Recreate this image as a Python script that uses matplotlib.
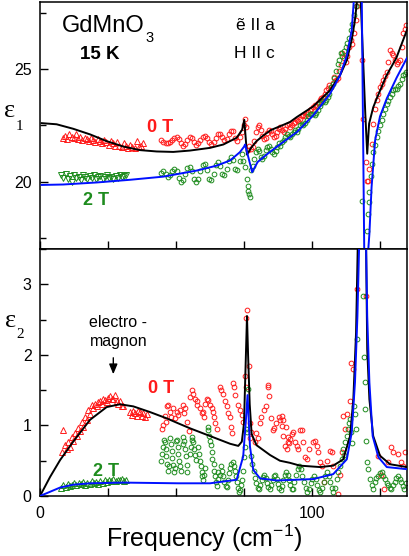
import numpy as np
import matplotlib
matplotlib.use("Agg")
import matplotlib.pyplot as plt
from matplotlib.ticker import MultipleLocator, FixedLocator

plt.rcParams['font.family'] = ['Liberation Sans', 'DejaVu Sans']
plt.rcParams['mathtext.fontset'] = 'custom'
plt.rcParams['mathtext.rm'] = 'Liberation Sans'
plt.rcParams['mathtext.it'] = 'Liberation Sans'
plt.rcParams['mathtext.default'] = 'regular'

# ---------------- data (frequency in cm^-1) ----------------
# fit curves, eps1
fit1_0T = [(0.6, 22.6), (6.1, 22.55), (12.2, 22.35), (18.4, 22.1), (24.5, 21.8), (30.6, 21.56),
           (36.8, 21.4), (42.9, 21.34), (49.0, 21.32), (55.1, 21.38), (62.5, 21.5), (67.4, 21.65),
           (72.3, 21.95), (74.3, 22.3), (75.1, 22.75), (76.1, 21.2), (77.6, 21.5), (79.6, 21.8),
           (82.1, 22.05), (85.0, 22.3), (88.2, 22.46), (91.9, 22.65), (94.4, 22.87), (100.5, 23.35),
           (106.6, 24.06), (110.3, 24.73), (112.8, 25.4), (114.6, 26.3), (115.8, 27.2), (116.6, 28.1),
           (117.3, 31.0), (117.9, 28.1), (118.9, 25.1), (119.6, 23.0), (120.3, 21.24), (121.0, 22.58),
           (122.5, 23.3), (123.8, 23.7), (127.3, 24.7), (131.0, 25.5), (134.9, 26.74)]
fit1_2T = [(0.6, 19.85), (8.5, 19.87), (20.8, 19.96), (33.1, 20.08), (45.3, 20.22), (57.6, 20.49),
           (65.0, 20.71), (69.9, 20.94), (73.5, 21.31), (75.0, 21.55), (75.4, 21.65), (78.0, 20.42),
           (80.0, 20.87), (83.7, 21.24), (88.2, 21.65), (91.9, 21.98), (94.4, 22.2), (100.5, 22.95),
           (106.6, 23.9), (110.3, 24.73), (112.8, 25.6), (114.6, 26.74), (115.4, 28.1), (116.5, 32.0),
           (118.3, 28.1), (119.2, 17.0), (119.7, 12.0), (120.7, 17.0), (121.1, 17.67), (121.9, 19.75),
           (123.2, 21.83), (125.0, 22.9), (127.5, 23.7), (131.1, 24.62), (134.9, 25.5)]
# fit curves, eps2
fit2_0T = [(0.0, 0.0), (3.7, 0.27), (7.4, 0.51), (12.2, 0.77), (18.4, 1.08), (24.5, 1.26), (29.4, 1.30),
           (34.3, 1.27), (40.4, 1.19), (46.6, 1.10), (50.8, 1.03), (55.1, 0.96), (62.5, 0.85),
           (69.9, 0.74), (72.9, 0.71), (74.2, 0.77), (75.0, 1.03), (75.7, 2.0), (76.1, 2.55),
           (76.5, 2.0), (77.1, 1.3), (77.8, 0.88), (79.6, 0.72), (84.6, 0.58), (88.2, 0.50),
           (91.9, 0.47), (95.6, 0.43), (103.0, 0.41), (107.8, 0.43), (111.5, 0.52), (114.0, 0.85),
           (115.2, 1.37), (116.2, 2.32), (116.8, 3.5), (118.3, 8.0), (119.9, 3.5), (120.3, 2.08),
           (121.1, 1.37), (122.5, 0.85), (125.0, 0.57), (128.7, 0.45), (134.9, 0.41)]
fit2_2T = [(0.0, 0.0), (3.7, 0.06), (7.4, 0.12), (12.2, 0.16), (18.4, 0.18), (30.6, 0.19), (50.8, 0.18),
           (62.5, 0.18), (72.3, 0.23), (74.7, 0.56), (75.7, 1.08), (76.3, 1.43), (77.2, 0.70),
           (78.4, 0.37), (80.9, 0.25), (87.0, 0.22), (100.5, 0.24), (107.8, 0.31), (112.8, 0.52),
           (114.6, 0.90), (115.8, 1.61), (116.7, 2.55), (117.3, 3.5), (118.6, 10.0), (119.9, 3.5),
           (120.3, 2.55), (121.1, 1.61), (122.3, 0.85), (124.4, 0.55), (127.5, 0.41), (134.9, 0.38)]

# measured eps1, 0 T
e1_0T_tri = [(8.5, 21.95), (9.3, 22.05), (10.1, 21.9), (10.8, 22.1), (11.6, 22.0), (12.4, 21.95),
             (13.2, 22.1), (14.0, 21.9), (14.8, 22.0), (15.6, 21.85), (16.4, 21.95), (17.2, 21.9),
             (18.0, 21.8), (18.8, 21.95), (19.6, 21.85), (20.4, 21.75), (21.2, 21.9), (22.0, 21.8),
             (22.8, 21.7), (23.6, 21.85), (24.4, 21.75), (25.2, 21.65), (26.0, 21.8), (26.8, 21.7),
             (27.6, 21.6), (28.4, 21.75), (29.2, 21.6), (30.0, 21.55), (30.8, 21.7), (31.6, 21.6),
             (32.4, 21.5), (33.2, 21.65), (34.0, 21.55), (34.8, 21.5), (35.6, 21.8), (36.4, 21.55),
             (37.2, 21.6), (38.0, 21.7)]
e1_0T_circ = [(44.6, 21.83), (45.4, 21.76), (46.2, 21.72), (47.0, 21.7), (47.8, 21.75), (48.6, 21.85),
              (49.4, 21.95), (50.2, 21.98), (51.0, 21.9), (51.8, 21.72), (52.6, 21.6), (53.4, 21.68),
              (54.2, 21.85), (55.0, 21.99), (55.8, 21.95), (56.6, 21.78), (57.4, 21.65), (58.2, 21.7),
              (59.0, 21.85), (59.8, 22.0), (60.6, 22.05), (61.4, 21.92), (62.2, 21.75), (63.0, 21.68),
              (63.8, 21.78), (64.6, 21.95), (65.4, 22.1), (66.2, 22.13), (67.0, 22.0), (67.8, 21.83),
              (68.6, 21.88), (69.4, 22.1), (70.2, 22.27), (71.0, 22.25), (71.8, 21.95), (72.6, 21.8),
              (73.4, 22.0), (74.2, 22.2), (75.0, 22.5), (75.4, 22.8), (75.9, 22.42), (76.4, 21.4),
              (77.0, 21.6), (77.6, 21.45), (78.2, 21.55), (78.8, 21.8), (79.4, 22.2), (80.0, 22.45),
              (80.6, 22.5), (81.2, 22.3), (81.8, 22.05), (82.4, 21.9), (83.0, 21.95), (83.6, 22.15),
              (84.2, 22.28), (84.8, 22.25), (85.4, 22.1), (86.0, 22.0), (86.6, 22.05), (87.2, 22.2),
              (87.8, 22.35), (88.4, 22.43), (89.0, 22.3), (89.6, 22.2), (90.2, 22.35), (90.8, 22.5),
              (91.4, 22.55), (92.0, 22.45), (92.6, 22.5), (93.2, 22.6), (93.8, 22.65), (94.4, 22.75),
              (95.0, 22.7), (95.6, 22.8), (96.2, 22.9), (96.8, 22.95), (97.4, 22.9), (98.0, 23.02),
              (98.6, 23.1), (99.2, 23.2), (99.8, 23.25), (100.4, 23.32), (101.0, 23.4), (101.6, 23.35),
              (102.2, 23.5), (102.8, 23.62), (103.4, 23.7), (104.0, 23.75), (104.6, 23.9), (105.2, 24.06),
              (105.8, 24.15), (106.4, 24.29), (107.0, 24.2), (107.6, 24.4), (108.2, 24.66), (108.8, 24.5),
              (109.4, 24.6), (110.0, 24.9), (110.6, 25.2), (111.2, 25.7), (111.8, 25.5), (112.4, 25.33),
              (113.0, 25.6), (113.6, 26.0), (114.2, 26.3), (114.8, 26.1), (115.4, 26.6), (116.0, 27.2),
              (116.5, 27.8), (118.5, 25.4), (118.9, 22.8), (119.9, 20.86), (120.1, 20.04), (120.5, 20.04),
              (121.1, 20.57), (121.9, 21.68), (122.5, 22.58), (123.2, 23.24), (123.8, 23.62),
              (124.4, 23.9), (125.0, 24.21), (125.6, 24.35), (126.2, 24.51), (126.9, 24.7), (127.5, 24.88),
              (128.1, 25.3), (128.7, 25.85), (129.3, 25.7), (129.9, 25.63), (130.5, 25.4), (131.1, 25.25),
              (131.7, 25.3), (132.4, 25.4), (133.0, 26.0), (133.6, 26.6), (134.2, 26.8), (134.6, 26.96)]
# measured eps1, 2 T
e1_2T_tri = [(7.8, 20.3), (8.6, 20.15), (9.4, 20.35), (10.2, 20.1), (11.0, 20.25), (11.8, 20.0),
             (12.6, 20.3), (13.4, 20.15), (14.2, 20.2), (15.0, 20.05), (15.8, 20.3), (16.6, 20.2),
             (17.4, 20.1), (18.2, 20.25), (19.0, 20.15), (19.8, 20.3), (20.6, 20.1), (21.4, 20.2),
             (22.2, 20.25), (23.0, 20.1), (23.8, 20.2), (24.6, 20.3), (25.4, 20.15), (26.2, 20.2),
             (27.0, 20.1), (27.8, 20.25), (28.6, 20.15), (29.4, 20.3), (30.2, 20.2), (31.0, 20.25),
             (31.8, 20.3)]
e1_2T_circ = [(44.6, 20.4), (45.4, 20.45), (46.2, 20.35), (47.0, 20.2), (47.8, 20.3), (48.6, 20.48),
              (49.4, 20.57), (50.2, 20.45), (51.0, 20.15), (51.8, 19.97), (52.6, 20.05), (53.4, 20.35),
              (54.2, 20.6), (55.0, 20.64), (55.8, 20.45), (56.6, 20.1), (57.4, 19.97), (58.2, 20.1),
              (59.0, 20.45), (59.8, 20.75), (60.6, 20.78), (61.4, 20.5), (62.2, 20.1), (63.0, 20.05),
              (63.8, 20.35), (64.6, 20.75), (65.4, 20.86), (66.2, 20.7), (67.0, 20.35), (67.8, 20.3),
              (68.6, 20.55), (69.4, 20.9), (70.2, 21.09), (71.0, 20.95), (71.8, 20.55), (72.6, 20.5),
              (73.4, 20.9), (74.2, 21.24), (74.8, 20.9), (75.4, 20.64), (76.0, 20.12), (76.3, 19.82),
              (76.6, 19.6), (77.0, 19.45), (77.2, 19.3), (77.6, 20.5), (78.2, 20.71), (78.8, 21.0),
              (79.4, 21.3), (80.0, 21.46), (80.6, 21.35), (81.2, 21.1), (81.8, 21.01), (82.4, 21.15),
              (83.0, 21.4), (83.6, 21.55), (84.2, 21.6), (84.8, 21.45), (85.4, 21.3), (86.0, 21.24),
              (86.6, 21.35), (87.2, 21.55), (87.8, 21.7), (88.4, 21.6), (89.0, 21.75), (89.6, 21.83),
              (90.2, 22.0), (90.8, 22.13), (91.4, 22.05), (92.0, 21.98), (92.6, 22.1), (93.2, 22.2),
              (93.8, 22.28), (94.4, 22.2), (95.0, 22.35), (95.6, 22.5), (96.2, 22.58), (96.8, 22.5),
              (97.4, 22.6), (98.0, 22.75), (98.6, 22.9), (99.2, 23.02), (99.8, 23.0), (100.4, 23.02),
              (101.0, 22.95), (101.6, 23.05), (102.2, 23.2), (102.8, 23.35), (103.4, 23.5), (104.0, 23.6),
              (104.6, 23.55), (105.2, 23.65), (105.8, 23.76), (106.4, 23.9), (107.0, 24.2), (107.6, 24.35),
              (108.2, 24.6), (108.8, 24.9), (109.4, 25.25), (110.0, 25.4), (110.6, 25.7), (111.2, 25.6),
              (111.8, 25.8), (112.4, 26.0), (113.0, 26.15), (113.6, 26.4), (114.2, 26.74), (114.8, 27.0),
              (115.4, 27.4), (116.0, 27.8), (118.3, 19.15), (120.4, 17.81), (120.6, 18.55), (121.0, 19.08),
              (121.1, 19.52), (121.6, 20.27), (122.1, 20.79), (122.5, 21.31), (123.1, 21.65),
              (123.8, 21.98), (124.4, 22.25), (125.0, 22.5), (125.6, 22.75), (126.2, 23.02), (126.9, 23.25),
              (127.5, 23.47), (128.1, 23.6), (128.7, 23.77), (129.3, 23.9), (129.9, 24.06), (130.5, 24.1),
              (131.1, 24.14), (131.7, 24.25), (132.4, 24.36), (133.0, 24.55), (133.6, 24.73),
              (134.2, 24.8), (134.6, 24.88)]

# measured eps2, 0 T
e2_0T_tri = [(8.0, 0.63), (8.6, 0.93), (9.2, 0.72), (9.8, 0.66), (10.4, 0.77), (11.0, 0.70), (11.6, 0.84),
             (12.2, 0.78), (12.9, 0.89), (13.5, 0.85), (14.1, 0.96), (14.7, 0.92), (15.3, 1.05),
             (15.9, 0.98), (16.5, 1.12), (17.1, 1.08), (17.8, 1.22), (18.4, 1.16), (19.0, 1.29),
             (19.6, 1.24), (20.2, 1.31), (20.8, 1.27), (21.4, 1.33), (22.1, 1.34), (22.7, 1.30),
             (23.3, 1.37), (23.9, 1.36), (24.5, 1.33), (25.1, 1.39), (25.7, 1.41), (26.3, 1.37),
             (27.0, 1.38), (27.6, 1.43), (28.2, 1.35), (28.8, 1.31), (29.4, 1.34), (30.0, 1.28),
             (30.6, 1.27), (33.1, 1.19), (33.7, 1.15), (34.3, 1.21), (34.9, 1.17), (35.5, 1.14),
             (36.2, 1.20), (36.8, 1.19), (37.4, 1.13), (38.0, 1.17), (38.6, 1.12), (39.2, 1.16)]
e2_0T_circ = [(44.8, 0.95), (45.3, 1.01), (45.9, 1.13), (46.2, 1.05), (46.6, 1.27), (47.2, 1.29),
              (47.8, 1.19), (48.0, 1.12), (49.0, 1.24), (49.6, 1.10), (50.2, 1.19), (50.8, 1.15),
              (51.5, 1.22), (52.7, 1.29), (52.9, 1.17), (53.3, 1.24), (54.0, 1.05), (54.6, 0.92),
              (55.2, 1.40), (55.8, 1.50), (56.4, 1.45), (57.0, 1.38), (57.6, 1.34), (57.9, 1.29),
              (58.8, 1.24), (59.4, 1.17), (60.1, 1.19), (60.3, 1.12), (60.7, 1.31), (61.3, 1.38),
              (61.9, 1.36), (62.5, 1.29), (63.1, 1.24), (63.7, 1.19), (63.9, 1.12), (64.3, 1.03),
              (65.0, 0.95), (66.2, 1.55), (66.6, 1.50), (67.4, 1.45), (68.0, 1.34), (68.6, 1.27),
              (69.2, 1.17), (69.9, 1.12), (70.1, 0.98), (70.5, 0.89), (71.1, 1.60), (71.3, 1.55),
              (71.7, 1.43), (72.9, 1.29), (73.5, 1.22), (74.1, 1.15), (74.7, 1.05), (75.3, 1.7),
              (75.7, 2.52), (76.0, 2.63), (77.0, 1.84), (75.9, 1.55), (77.1, 1.03), (77.3, 0.82),
              (77.7, 0.91), (78.9, 0.77), (79.5, 0.89), (80.1, 0.82), (80.7, 1.03), (81.3, 1.12),
              (82.5, 1.22), (83.1, 1.27), (83.7, 1.55), (83.9, 1.57), (84.3, 1.41), (84.9, 1.10),
              (85.5, 0.94), (86.2, 0.96), (86.8, 1.03), (88.0, 1.12), (88.2, 1.07), (88.8, 1.14),
              (88.9, 0.99), (89.2, 1.08), (89.5, 0.85), (90.1, 0.71), (90.4, 0.98), (90.7, 0.67),
              (91.0, 0.84), (91.3, 0.76), (91.6, 0.75), (91.9, 0.81), (92.5, 0.88), (93.1, 0.90),
              (93.8, 0.76), (94.4, 0.71), (95.0, 0.67), (95.6, 0.93), (96.2, 0.93), (96.8, 0.76),
              (97.4, 0.55), (98.0, 0.52), (99.0, 0.66), (100.5, 0.76), (101.1, 0.78), (101.7, 0.71),
              (102.3, 0.62), (102.9, 0.48), (103.6, 0.43), (104.5, 0.20), (105.5, 0.50), (106.6, 0.64),
              (107.2, 0.62), (107.8, 0.43), (109.7, 0.03), (110.2, 0.30), (110.9, 0.62), (111.5, 1.14),
              (112.2, 0.95), (112.7, 1.16), (113.9, 1.35), (114.5, 1.89), (115.1, 1.80), (116.7, 2.93),
              (120.0, 2.84), (124.3, 0.57), (125.5, 0.30), (126.5, 0.10), (128.0, 0.48), (129.2, 0.69),
              (129.8, 0.62), (131.6, 0.60), (132.8, 0.48), (133.5, 0.43), (134.2, 0.62)]
# measured eps2, 2 T
e2_2T_tri = [(7.8, 0.12), (8.6, 0.15), (9.4, 0.13), (10.2, 0.17), (11.0, 0.14), (11.8, 0.16), (12.6, 0.18),
             (13.4, 0.15), (14.2, 0.19), (15.0, 0.17), (15.8, 0.20), (16.6, 0.16), (17.4, 0.19),
             (18.2, 0.17), (19.0, 0.21), (19.8, 0.18), (20.6, 0.20), (21.4, 0.17), (22.2, 0.21),
             (23.0, 0.19), (23.8, 0.22), (24.6, 0.20), (25.4, 0.23), (26.2, 0.21), (27.0, 0.24),
             (27.8, 0.21), (28.6, 0.23), (29.4, 0.22), (30.2, 0.24), (31.0, 0.21), (31.8, 0.23)]
e2_2T_circ = [(44.6, 0.50), (44.9, 0.60), (45.2, 0.70), (45.5, 0.80), (45.9, 0.76), (46.2, 0.66),
              (46.5, 0.56), (46.8, 0.46), (47.2, 0.36), (47.5, 0.42), (47.8, 0.82), (48.1, 0.74),
              (48.4, 0.64), (48.7, 0.54), (49.0, 0.44), (49.3, 0.34), (49.7, 0.40), (50.0, 0.78),
              (50.3, 0.80), (50.6, 0.70), (50.9, 0.60), (51.2, 0.50), (51.5, 0.42), (51.8, 0.36),
              (52.4, 0.74), (52.7, 0.84), (53.0, 0.78), (53.3, 0.66), (53.6, 0.56), (53.9, 0.44),
              (54.2, 0.34), (55.1, 0.60), (55.4, 0.70), (55.7, 0.80), (56.0, 0.84), (56.4, 0.76),
              (56.7, 0.66), (57.0, 0.58), (57.3, 0.51), (58.2, 0.70), (58.5, 0.60), (58.8, 0.50),
              (59.1, 0.42), (59.4, 0.34), (59.7, 0.28), (60.1, 0.23), (60.4, 0.30), (60.7, 0.40),
              (61.6, 0.98), (61.9, 0.93), (62.2, 0.85), (62.5, 0.78), (62.8, 0.72), (63.1, 0.62),
              (63.4, 0.52), (63.8, 0.45), (64.1, 0.36), (64.4, 0.28), (64.7, 0.20), (65.0, 0.14),
              (65.3, 0.24), (65.6, 0.34), (66.0, 0.30), (66.6, 0.42), (67.0, 0.35), (67.4, 0.28),
              (67.8, 0.20), (68.2, 0.14), (68.6, 0.13), (69.0, 0.22), (69.4, 0.32), (69.8, 0.40),
              (70.4, 0.46), (70.8, 0.48), (71.2, 0.42), (71.6, 0.35), (72.0, 0.28), (72.4, 0.20),
              (72.8, 0.12), (73.2, 0.05), (73.6, 0.08), (74.0, 0.15), (74.4, 0.23), (74.8, 0.35),
              (75.1, 0.55), (75.4, 0.70), (75.9, 0.95), (76.2, 0.90), (76.5, 1.52), (77.5, 0.56),
              (78.0, 0.45), (78.5, 0.35), (79.0, 0.25), (79.5, 0.18), (80.0, 0.12), (80.5, 0.10),
              (81.0, 0.15), (81.5, 0.22), (82.0, 0.27), (82.5, 0.30), (83.0, 0.25), (83.5, 0.18),
              (84.0, 0.13), (84.5, 0.10), (85.0, 0.15), (85.5, 0.22), (86.0, 0.28), (86.5, 0.30),
              (87.0, 0.24), (87.5, 0.17), (88.0, 0.12), (88.5, 0.08), (89.0, 0.14), (89.5, 0.22),
              (90.0, 0.30), (90.5, 0.34), (91.0, 0.30), (91.5, 0.22), (92.0, 0.15), (92.5, 0.10),
              (92.9, 0.10), (93.5, 0.20), (94.1, 0.30), (94.7, 0.38), (95.3, 0.43), (95.9, 0.38),
              (96.5, 0.29), (97.1, 0.20), (97.7, 0.12), (98.3, 0.05), (98.9, 0.10), (99.5, 0.18),
              (100.1, 0.24), (100.7, 0.29), (101.3, 0.24), (101.9, 0.15), (102.5, 0.08), (103.1, 0.05),
              (103.7, 0.12), (104.3, 0.20), (104.9, 0.29), (105.5, 0.34), (106.1, 0.29), (106.7, 0.20),
              (107.3, 0.12), (107.9, 0.06), (108.5, 0.12), (109.1, 0.24), (109.7, 0.34), (110.3, 0.43),
              (110.9, 0.52), (111.5, 0.67), (111.9, 0.58), (112.3, 0.76), (112.7, 0.85), (113.1, 0.95),
              (113.5, 1.04), (113.9, 1.09), (114.3, 0.90), (114.7, 0.75), (115.3, 1.28), (115.8, 1.16),
              (116.2, 0.95), (116.5, 2.22), (118.7, 2.84), (119.1, 1.97), (119.4, 1.61), (119.6, 1.23),
              (120.0, 0.78), (120.1, 0.48), (120.7, 0.38), (121.3, 0.24), (121.9, 0.15), (122.5, 0.10),
              (123.1, 0.20), (123.7, 0.25), (124.3, 0.29), (125.0, 0.32), (125.6, 0.34), (126.2, 0.28),
              (126.8, 0.24), (127.4, 0.18), (128.0, 0.15), (128.6, 0.12), (129.2, 0.10), (129.8, 0.15),
              (130.4, 0.20), (131.0, 0.25), (131.6, 0.29), (132.2, 0.24), (132.8, 0.20), (133.4, 0.14),
              (133.8, 0.10), (134.4, 0.18)]

xticks_major = [0, 100]
xticklabels = ['0', '100']

# ---------------- styling ----------------
RED = '#ff1a1a'
GREEN = '#1e8c1e'
BLUE = '#0010ff'
W, H = 409, 556


def fx(px):
    return px / W


def fy(py):
    return 1 - py / H


def xy(data):
    a = np.array(data, dtype=float)
    return a[:, 0], a[:, 1]


fig = plt.figure(figsize=(W / 100, H / 100), dpi=100)
left, right = 40, 407.2
ax1 = fig.add_axes([fx(left), fy(249), fx(right) - fx(left), (249 - 1.8) / H])
ax2 = fig.add_axes([fx(left), fy(496), fx(right) - fx(left), (496 - 249) / H])

circ_kw = dict(ls='none', marker='o', ms=3.4, mfc='none', mew=0.7)
tri_kw = dict(ls='none', ms=4.2, mfc='none', mew=0.7)

# top panel
x, y = xy(e1_0T_tri); ax1.plot(x, y, marker='^', color=RED, **tri_kw)
x, y = xy(e1_2T_tri); ax1.plot(x, y, marker='v', color=GREEN, **tri_kw)
x, y = xy(e1_0T_circ); ax1.plot(x, y, color=RED, **circ_kw)
x, y = xy(e1_2T_circ); ax1.plot(x, y, color=GREEN, **circ_kw)
x, y = xy(fit1_0T); ax1.plot(x, y, color='black', lw=1.4, zorder=5)
x, y = xy(fit1_2T); ax1.plot(x, y, color=BLUE, lw=1.4, zorder=5)

# bottom panel
x, y = xy(e2_0T_tri); ax2.plot(x, y, marker='^', color=RED, **tri_kw)
x, y = xy(e2_2T_tri); ax2.plot(x, y, marker='^', color=GREEN, **tri_kw)
x, y = xy(e2_0T_circ); ax2.plot(x, y, color=RED, **circ_kw)
x, y = xy(e2_2T_circ); ax2.plot(x, y, color=GREEN, **circ_kw)
x, y = xy(fit2_0T); ax2.plot(x, y, color='black', lw=1.4, zorder=5)
x, y = xy(fit2_2T); ax2.plot(x, y, color=BLUE, lw=1.4, zorder=5)

for ax in (ax1, ax2):
    ax.set_xlim(0, 135)
    ax.xaxis.set_major_locator(FixedLocator(xticks_major))
    ax.xaxis.set_minor_locator(MultipleLocator(25))
    ax.tick_params(which='both', direction='in', top=False, right=False, width=1.0,
                   labelsize=11.5, pad=6)
    ax.tick_params(which='major', length=6)
    ax.tick_params(which='minor', length=6)
    for s in ax.spines.values():
        s.set_linewidth(1.1)

ax1.set_ylim(17, 28)
ax1.yaxis.set_major_locator(FixedLocator([20, 25]))
ax1.yaxis.set_minor_locator(MultipleLocator(2.5))
ax1.tick_params(axis='y', which='minor', length=4)
ax1.tick_params(axis='x', labelbottom=False)

ax2.set_ylim(0, 3.5)
ax2.yaxis.set_major_locator(FixedLocator([0, 1, 2, 3]))
ax2.yaxis.set_minor_locator(MultipleLocator(0.5))
ax2.tick_params(axis='y', which='minor', length=4)
ax2.set_xticklabels(xticklabels)
ax2.tick_params(axis='x', pad=7)

# x label
fig.text(fx(204), fy(538), 'Frequency (cm$^{-1}$)', ha='center', va='center', fontsize=18)

# y labels (epsilon with subscript)
serif = ['Liberation Serif', 'DejaVu Serif']
fig.text(fx(15), fy(117), 'ε', family=serif, fontsize=19, ha='right', va='baseline')
fig.text(fx(15.5), fy(130), '1', family=serif, fontsize=11, ha='left', va='baseline')
fig.text(fx(16), fy(327), 'ε', family=serif, fontsize=19, ha='right', va='baseline')
fig.text(fx(16.5), fy(338), '2', family=serif, fontsize=11, ha='left', va='baseline')

# annotations
t_gd = fig.text(fx(62), fy(32), 'GdMnO', fontsize=17, ha='left', va='baseline')
fig.canvas.draw()
bb = t_gd.get_window_extent()
fig.text(bb.x1 / fig.bbox.width + 0.5 / W, fy(41.5), '3', fontsize=10.5, ha='left', va='baseline')
fig.text(fx(99.5), fy(59), '15 K', fontsize=13.5, fontweight='bold', ha='center', va='baseline')
fig.text(fx(255.5), fy(30), 'ẽ II a', fontsize=12.5, ha='center', va='baseline')
fig.text(fx(254.5), fy(58), 'H II c', fontsize=12.5, ha='center', va='baseline')
fig.text(fx(160.5), fy(131.5), '0 T', fontsize=13, fontweight='bold', color=RED, ha='center', va='baseline')
fig.text(fx(96.5), fy(205), '2 T', fontsize=13, fontweight='bold', color=GREEN, ha='center', va='baseline')
fig.text(fx(161), fy(393), '0 T', fontsize=13, fontweight='bold', color=RED, ha='center', va='baseline')
fig.text(fx(106.5), fy(476), '2 T', fontsize=13, fontweight='bold', color=GREEN, ha='center', va='baseline')
fig.text(fx(118), fy(327), 'electro -', fontsize=11.5, ha='center', va='baseline')
fig.text(fx(118.5), fy(346), 'magnon', fontsize=11.5, ha='center', va='baseline')
fig.patches.append(matplotlib.patches.FancyArrowPatch(
    (fx(113.3), fy(355)), (fx(113.3), fy(377)), transform=fig.transFigure,
    arrowstyle='-|>,head_length=6,head_width=2.5', color='black', lw=1.0, mutation_scale=1))

fig.savefig('out.png', dpi=100)
